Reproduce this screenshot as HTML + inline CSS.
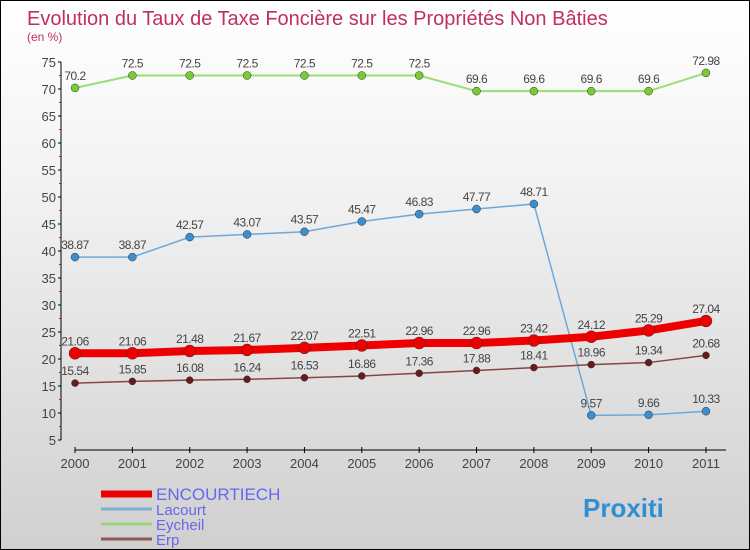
<!DOCTYPE html>
<html><head><meta charset="utf-8"><style>
body{margin:0}
#c{width:750px;height:550px;position:relative;box-sizing:border-box;border:1px solid #000;background:linear-gradient(#fff,#f4f4f4 30%,#d0d0d0);font-family:"Liberation Sans",sans-serif;overflow:hidden}
</style></head><body>
<div id="c">
<svg id="s" width="748" height="548"></svg>
</div>
<script>
const years=["2000","2001","2002","2003","2004","2005","2006","2007","2008","2009","2010","2011"];
const encourtiech=[21.06,21.06,21.48,21.67,22.07,22.51,22.96,22.96,23.42,24.12,25.29,27.04];
const lacourt=[38.87,38.87,42.57,43.07,43.57,45.47,46.83,47.77,48.71,9.57,9.66,10.33];
const eycheil=[70.2,72.5,72.5,72.5,72.5,72.5,72.5,69.6,69.6,69.6,69.6,72.98];
const erp=[15.54,15.85,16.08,16.24,16.53,16.86,17.36,17.88,18.41,18.96,19.34,20.68];
const yTicks=[5,10,15,20,25,30,35,40,45,50,55,60,65,70,75];
const s=document.getElementById('s');const NS='http://www.w3.org/2000/svg';
function el(t,a,p){const e=document.createElementNS(NS,t);for(const k in a)e.setAttribute(k,a[k]);(p||s).appendChild(e);return e;}
const X=i=>74+i*57.36, Y=v=>439-(v-5)*5.4;
let t=el('text',{x:26,y:24,'font-size':20,fill:'#c0305a'});t.textContent='Evolution du Taux de Taxe Foncière sur les Propriétés Non Bâties';

t=el('text',{x:26,y:40,'font-size':12,fill:'#c0305a'});t.textContent='(en %)';

let ax=el('line',{x1:60,y1:Y(75),x2:60,y2:Y(5),stroke:'#000'});

yTicks.forEach(v=>{el('line',{x1:57,x2:60,y1:Y(v),y2:Y(v),stroke:'#000'});
 if(v<75)el('line',{x1:58,x2:60,y1:Y(v+2.5),y2:Y(v+2.5),stroke:'#e00'});
 const l=el('text',{x:55,y:Y(v)+5,'font-size':13,fill:'#444','text-anchor':'end'});l.textContent=v;
 });
ax=el('line',{x1:74,y1:449,x2:725,y2:449,stroke:'#000'});

years.forEach((y,i)=>{el('line',{x1:X(i),x2:X(i),y1:446,y2:452,stroke:'#000'});
 const l=el('text',{x:X(i),y:467,'font-size':13,fill:'#444','text-anchor':'middle'});l.textContent=y;
 });
function series(d,name,col,dot,w,r){
 const g=el('g',{});
 el('polyline',{points:d.map((v,i)=>X(i)+','+Y(v)).join(' '),fill:'none',stroke:col,'stroke-width':w},g);
 d.forEach((v,i)=>{const c=el('circle',{cx:X(i),cy:Y(v),r:r,fill:dot,stroke:'#333','stroke-width':0.5},g);
  
  const l=el('text',{x:X(i),y:Y(v)-8,'font-size':12,fill:'#444','text-anchor':'middle','letter-spacing':'-0.5'},g);l.textContent=v;
  });
}
series(eycheil,'eycheil','#99dd77','#77cc33',2,4);
series(lacourt,'lacourt','#6fa8d8','#3b8fd0',1.5,4);
series(erp,'erp','#884444','#6a1a1a',1.5,3.5);
series(encourtiech,'encourtiech','#ee0000','#ee0000',8,6);
const leg=[['ENCOURTIECH','#ee0000',7],['Lacourt','#7eaed0',3],['Eycheil','#99d577',3],['Erp','#8c5c5c',3]];
leg.forEach((e,i)=>{const y=493+i*15;const g=el('g',{});
 el('line',{x1:100,x2:151,y1:y,y2:y,stroke:e[1],'stroke-width':e[2]},g);
 const l=el('text',{x:155,y:y+6,'font-size':i?15:17,fill:'#6666ee'},g);l.textContent=e[0];});
t=el('text',{x:582,y:516,'font-size':26,'font-weight':'bold',fill:'#2f8fd0'});t.textContent='Proxiti';

</script>
</body></html>
